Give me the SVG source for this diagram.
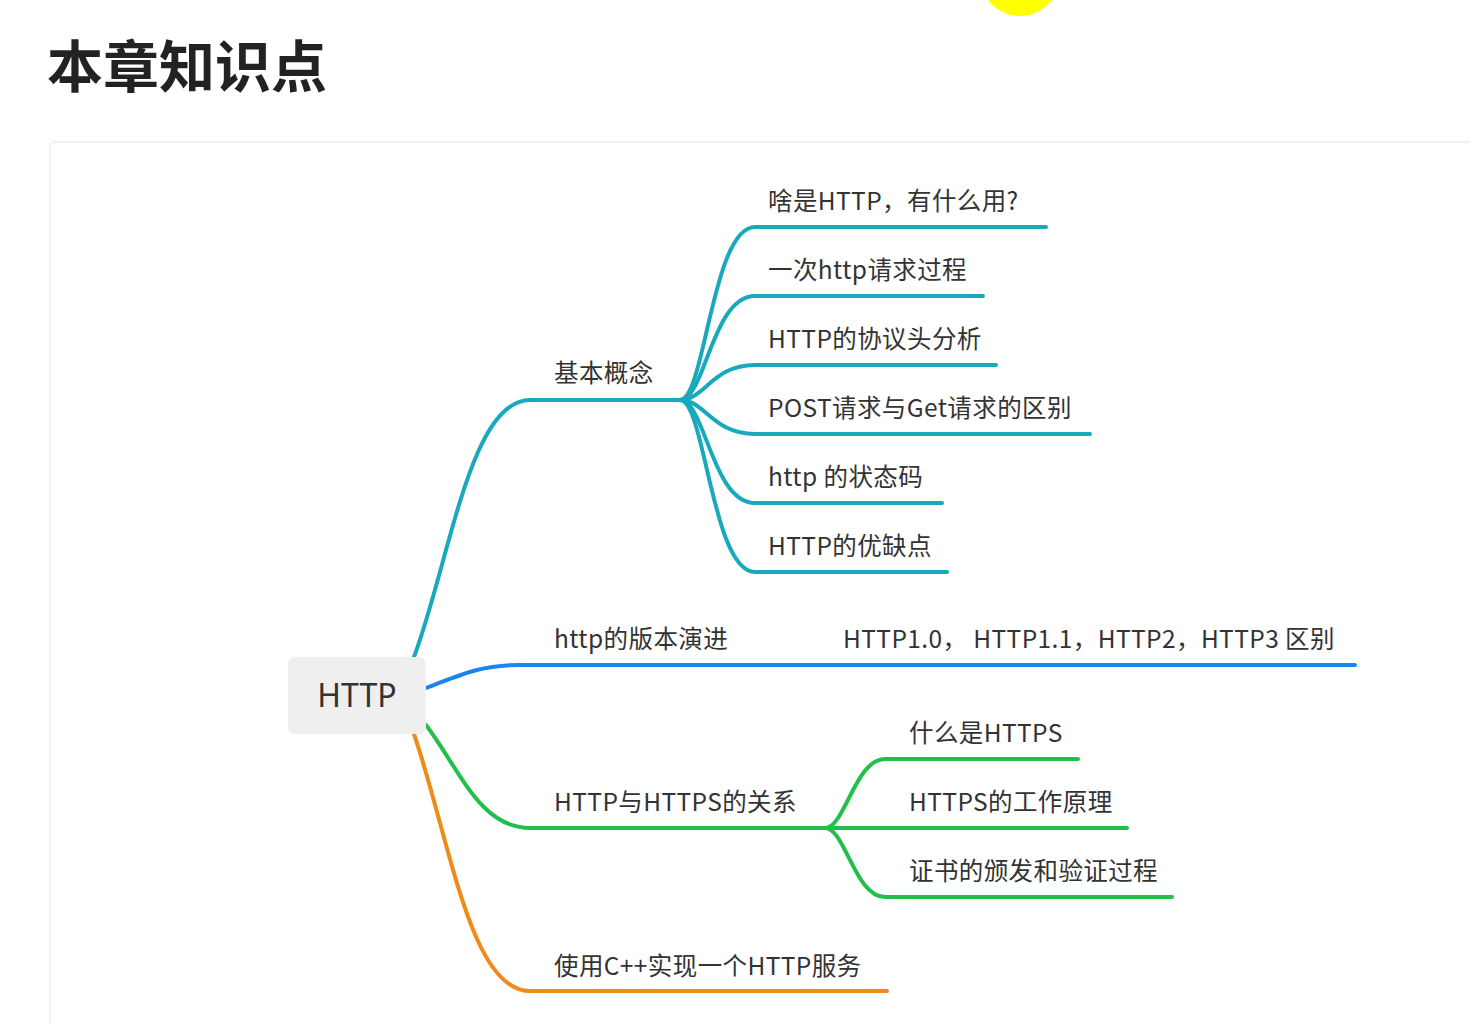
<svg xmlns="http://www.w3.org/2000/svg" width="1470" height="1024" viewBox="0 0 1470 1024">
<style>
.t{font-family:"Noto Sans CJK SC","Noto Sans",sans-serif;font-size:24.5px;letter-spacing:0.4px;fill:#333}
.title{font-family:"Noto Sans CJK SC",sans-serif;font-size:56px;font-weight:bold;fill:#222}
.root{font-family:"Noto Sans","Noto Sans CJK SC",sans-serif;font-size:32px;fill:#333;text-anchor:middle}
.c{fill:none;stroke-width:4;stroke-linecap:round}
.teal{stroke:#18a9bc}.blue{stroke:#1a84f0}.green{stroke:#22c04a}.orange{stroke:#f08a1a}
</style>
<rect width="1470" height="1024" fill="#fff"/>
<circle cx="1020" cy="-24" r="40" fill="#ffff00"/>
<text class="title" x="47" y="87">本章知识点</text>
<rect x="50" y="142" width="1440" height="900" rx="4" fill="#fff" stroke="#eeeeee" stroke-width="1.5"/>
<g id="connectors">
<path class="c teal" d="M414 657 C450 560 470 400 530 400 L680 400"/>
<path class="c blue" d="M426 688 C460 675 480 665 520 665 L1355 665"/>
<path class="c green" d="M426 725 C460 770 480 828 530 828 L825 828"/>
<path class="c orange" d="M414 734 C450 840 470 991 530 991 L887 991"/>
<path class="c teal" d="M680 400 C705 400 712 227 755 227 L1046 227"/>
<path class="c teal" d="M680 400 C705 400 712 296 755 296 L983 296"/>
<path class="c teal" d="M680 400 C705 400 712 365 755 365 L996 365"/>
<path class="c teal" d="M680 400 C705 400 712 434 755 434 L1090 434"/>
<path class="c teal" d="M680 400 C705 400 712 503 755 503 L942 503"/>
<path class="c teal" d="M680 400 C705 400 712 572 755 572 L947 572"/>
<path class="c green" d="M825 828 C845 828 855 759 885 759 L1078 759"/>
<path class="c green" d="M825 828 L1127 828"/>
<path class="c green" d="M825 828 C845 828 855 897 885 897 L1172 897"/>
</g>
<g id="root"><rect x="288" y="657" width="138" height="77" rx="7" fill="#efefef"/><text class="root" x="357" y="707">HTTP</text></g>
<g id="n1"><text class="t" x="554" y="382">基本概念</text></g>
<g id="n2"><text class="t" x="554" y="648">http的版本演进</text><text class="t" x="843" y="648">HTTP1.0， HTTP1.1，HTTP2，HTTP3 区别</text></g>
<g id="n3"><text class="t" x="554" y="811">HTTP与HTTPS的关系</text></g>
<g id="n4"><text class="t" x="554" y="975">使用C++实现一个HTTP服务</text></g>
<g id="n1a"><text class="t" x="768" y="210">啥是HTTP，有什么用?</text></g>
<g id="n1b"><text class="t" x="768" y="279">一次http请求过程</text></g>
<g id="n1c"><text class="t" x="768" y="348">HTTP的协议头分析</text></g>
<g id="n1d"><text class="t" x="768" y="417">POST请求与Get请求的区别</text></g>
<g id="n1e"><text class="t" x="768" y="486">http 的状态码</text></g>
<g id="n1f"><text class="t" x="768" y="555">HTTP的优缺点</text></g>
<g id="n3a"><text class="t" x="909" y="742">什么是HTTPS</text></g>
<g id="n3b"><text class="t" x="909" y="811">HTTPS的工作原理</text></g>
<g id="n3c"><text class="t" x="909" y="880">证书的颁发和验证过程</text></g>
</svg>
